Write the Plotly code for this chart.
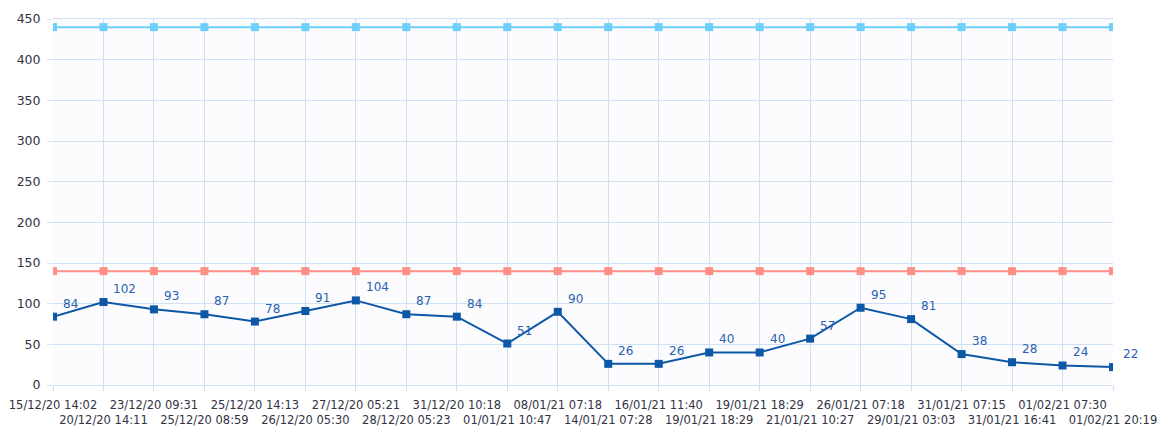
import plotly.graph_objects as go

# Measurement timestamps (category axis)
timestamps = [
    "15/12/20 14:02", "20/12/20 14:11", "23/12/20 09:31", "25/12/20 08:59",
    "25/12/20 14:13", "26/12/20 05:30", "27/12/20 05:21", "28/12/20 05:23",
    "31/12/20 10:18", "01/01/21 10:47", "08/01/21 07:18", "14/01/21 07:28",
    "16/01/21 11:40", "19/01/21 18:29", "19/01/21 18:29", "21/01/21 10:27",
    "26/01/21 07:18", "29/01/21 03:03", "31/01/21 07:15", "31/01/21 16:41",
    "01/02/21 07:30", "01/02/21 20:19",
]
values = [84, 102, 93, 87, 78, 91, 104, 87, 84, 51, 90, 26, 26, 40, 40, 57,
          95, 81, 38, 28, 24, 22]
upper_limit = [440] * len(timestamps)
lower_limit = [140] * len(timestamps)
y_ticks = [0, 50, 100, 150, 200, 250, 300, 350, 400, 450]

x = list(range(len(timestamps)))
# staggered tick labels: odd positions drop to a second row
tick_text = [t if i % 2 == 0 else "<br>" + t for i, t in enumerate(timestamps)]

font_family = "DejaVu Sans, Verdana, sans-serif"
grid = "#cfe0f5"

fig = go.Figure()
fig.add_trace(go.Scatter(
    x=x, y=upper_limit, mode="lines+markers",
    line=dict(color="#6dcffb", width=2),
    marker=dict(symbol="square", size=8, color="#6dcffb"),
    hoverinfo="skip", showlegend=False,
))
fig.add_trace(go.Scatter(
    x=x, y=lower_limit, mode="lines+markers",
    line=dict(color="#ff8f87", width=2),
    marker=dict(symbol="square", size=8, color="#ff8f87"),
    hoverinfo="skip", showlegend=False,
))
fig.add_trace(go.Scatter(
    x=x, y=values, mode="lines+markers",
    line=dict(color="#0d57a7", width=2),
    marker=dict(symbol="square", size=8, color="#0d57a7"),
    showlegend=False,
))

# value labels, up and to the right of each point
for xi, v in zip(x, values):
    fig.add_annotation(
        x=xi, y=v, text=str(v), showarrow=False,
        xanchor="left", yanchor="bottom", xshift=8, yshift=4,
        font=dict(family=font_family, size=12, color="#2a62b0"),
    )

fig.update_layout(
    width=1160, height=437,
    margin=dict(l=53, r=47, t=19, b=52),
    paper_bgcolor="#ffffff",
    plot_bgcolor="#fcfcfe",
    font=dict(family=font_family, size=12, color="#333333"),
)
fig.update_xaxes(
    range=[0, len(timestamps) - 1],
    tickmode="array", tickvals=x, ticktext=tick_text,
    showgrid=True, gridcolor=grid, gridwidth=1,
    ticks="outside", ticklen=5, tickcolor=grid,
    showline=True, linecolor=grid, mirror=True,
    tickangle=0, zeroline=False, automargin=False,
    ticklabelstandoff=4,
    tickfont=dict(size=11.5, color="#333344"),
)
fig.update_yaxes(
    range=[0, 450],
    tickmode="array", tickvals=y_ticks,
    showgrid=True, gridcolor=grid, gridwidth=1,
    ticks="outside", ticklen=5, tickcolor=grid,
    showline=False, zeroline=False, automargin=False,
    ticklabelstandoff=4,
    tickfont=dict(size=12.5, color="#333344"),
)

fig.write_html("out.html")
